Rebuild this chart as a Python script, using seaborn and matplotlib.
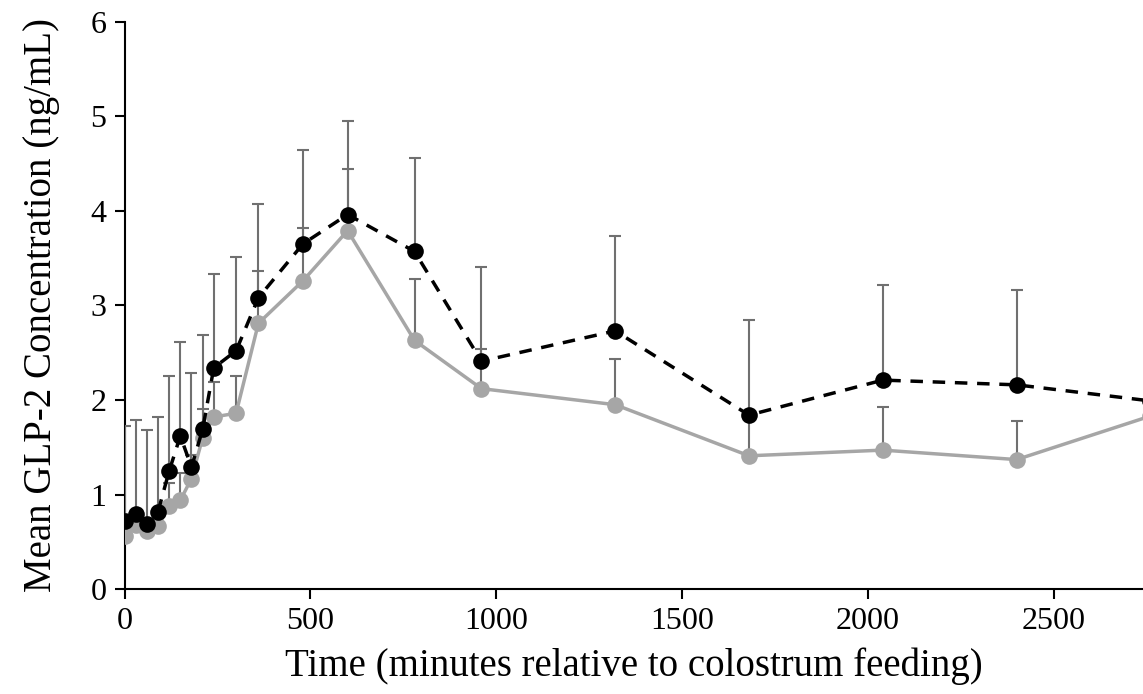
import numpy as np
import pandas as pd
import matplotlib
matplotlib.use("Agg")
import matplotlib.pyplot as plt
import seaborn as sns

# sampling times (minutes relative to colostrum feeding)
times = [0, 30, 60, 90, 120, 150, 180, 210, 240, 300, 360, 480, 600,
         780, 960, 1320, 1680, 2040, 2400, 2760]

# dashed black series: mean and upper error
black_mean = [0.72, 0.79, 0.69, 0.82, 1.25, 1.62, 1.29, 1.69, 2.34, 2.52, 3.08,
              3.65, 3.96, 3.57, 2.41, 2.73, 1.84, 2.21, 2.16, 1.99]
black_err = [1.00, 1.00, 0.99, 1.00, 1.00, 0.99, 1.00, 1.00, 0.99, 0.99, 0.99,
             0.99, 0.99, 0.99, 1.00, 1.00, 1.00, 1.00, 1.00, 1.00]

# solid grey series: mean and upper error
grey_mean = [0.56, 0.68, 0.62, 0.67, 0.88, 0.94, 1.17, 1.60, 1.82, 1.86, 2.81,
             3.26, 3.79, 2.63, 2.12, 1.95, 1.41, 1.47, 1.37, 1.83]
grey_err = [0.12, 0.08, 0.05, 0.10, 0.24, 0.29, 0.25, 0.30, 0.37, 0.39, 0.55,
            0.56, 0.65, 0.65, 0.42, 0.48, 0.42, 0.46, 0.41, 0.40]

df = pd.DataFrame({"time": times, "black": black_mean, "grey": grey_mean})

sns.set_style("ticks")
plt.rcParams["font.family"] = ["Liberation Serif", "DejaVu Serif"]
plt.rcParams["text.color"] = "black"
plt.rcParams["axes.labelcolor"] = "black"
plt.rcParams["xtick.color"] = "black"
plt.rcParams["ytick.color"] = "black"

fig = plt.figure(figsize=(11.43, 6.94), dpi=100)
ax = fig.add_axes([0.109, 0.151, 0.891, 0.818])

err_col = "#707070"
grey_col = "#a6a6a6"

# grey series first, so the black one sits on top
ax.errorbar(times, grey_mean, yerr=[np.zeros(len(times)), grey_err], fmt="none",
            ecolor=err_col, elinewidth=1.5, capsize=4.5, capthick=1.5, zorder=2)
sns.lineplot(data=df, x="time", y="grey", ax=ax, color=grey_col, linewidth=2.5,
             marker="o", markersize=12, markeredgewidth=0, zorder=3)

ax.errorbar(times, black_mean, yerr=[np.zeros(len(times)), black_err], fmt="none",
            ecolor=err_col, elinewidth=1.5, capsize=4.5, capthick=1.5, zorder=4)
sns.lineplot(data=df, x="time", y="black", ax=ax, color="black", linewidth=2.5,
             dashes=False, marker="o", markersize=12, markeredgewidth=0, zorder=5)
ax.lines[-1].set_dashes((3.6, 2.8))

ax.set_xlim(0, 2740)
ax.set_ylim(0, 6)
ax.set_xticks([0, 500, 1000, 1500, 2000, 2500])
ax.set_yticks([0, 1, 2, 3, 4, 5, 6])
ax.tick_params(axis="both", labelsize=23, length=7, width=1.5, colors="black",
               direction="out", pad=6)

for side in ["top", "right"]:
    ax.spines[side].set_visible(False)
for side in ["left", "bottom"]:
    ax.spines[side].set_linewidth(1.5)
    ax.spines[side].set_color("black")

ax.set_xlabel("Time (minutes relative to colostrum feeding)", fontsize=28, labelpad=8)
ax.set_ylabel("Mean GLP-2 Concentration (ng/mL)", fontsize=28, labelpad=22)

fig.savefig("out.png", dpi=100)
